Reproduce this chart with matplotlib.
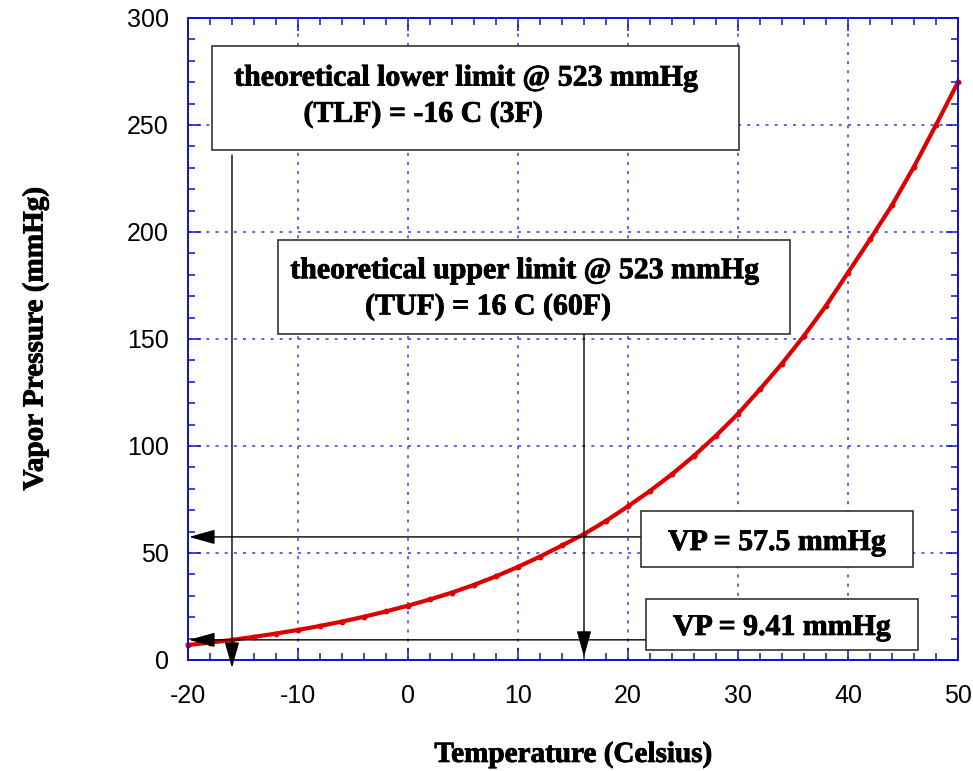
import matplotlib
matplotlib.use("Agg")
import matplotlib.pyplot as plt
from matplotlib import font_manager
from matplotlib import patheffects
from matplotlib.patches import Rectangle
from matplotlib.ticker import MultipleLocator

# vapor pressure curve (every 2 C)
temp_c = [-20, -18, -16, -14, -12, -10, -8, -6, -4, -2, 0, 2, 4, 6, 8, 10,
          12, 14, 16, 18, 20, 22, 24, 26, 28, 30, 32, 34, 36, 38, 40, 42,
          44, 46, 48, 50]
vp_mmhg = [7.0, 8.1, 9.4, 10.8, 12.35, 14.05, 15.9, 17.95, 20.2, 22.7, 25.4,
           28.3, 31.5, 35.1, 39.1, 43.5, 48.3, 53.5, 58.8, 65.0, 71.8, 79.0,
           86.8, 95.4, 104.8, 115.0, 126.5, 138.5, 151.5, 165.5, 181.0,
           196.5, 212.5, 230.5, 250.0, 270.0]

# the two limit points
tlf_temp, tlf_vp = -16, 9.41
tuf_temp, tuf_vp = 16, 57.5

lower_lines = ["theoretical lower limit @ 523 mmHg", "(TLF) = -16 C (3F)"]
upper_lines = ["theoretical upper limit @ 523 mmHg", "(TUF) = 16 C (60F)"]
vp_hi_label = "VP = 57.5 mmHg"
vp_lo_label = "VP = 9.41 mmHg"

BLUE = "#1010d0"
SANS = "Liberation Sans"
BOLD_SERIF = font_manager.findfont(
    font_manager.FontProperties(family="Liberation Serif", weight="bold"))
HEAVY = [patheffects.withStroke(linewidth=0.6, foreground="black")]

plt.rcParams["axes.unicode_minus"] = False


def _bold(size):
    return font_manager.FontProperties(fname=BOLD_SERIF, size=size)


def _box(ax, x0, y0, x1, y1):
    ax.add_patch(Rectangle((x0, y0), x1 - x0, y1 - y0, facecolor="white",
                           edgecolor="#222222", lw=1.1, zorder=4,
                           clip_on=False))


def _arrow(ax, start, tip):
    ax.annotate("", xy=tip, xytext=start, annotation_clip=False, zorder=3,
                arrowprops=dict(arrowstyle="-|>,head_length=1.6,head_width=0.45",
                                color="black", lw=1.0, shrinkA=0, shrinkB=0))


def _label(ax, x, y, s, size, ha="left"):
    ax.text(x, y, s, fontproperties=_bold(size), va="baseline", ha=ha,
            zorder=5, path_effects=HEAVY)


fig = plt.figure(figsize=(9.73, 7.71), dpi=100)
ax = fig.add_axes([0.1932, 0.144, 0.7914, 0.8327])

ax.plot(temp_c, vp_mmhg, color="#dd0000", lw=3.0, marker="o", ms=3.2,
        zorder=2.5, clip_on=False)

ax.set_xlim(-20, 50)
ax.set_ylim(0, 300)
ax.xaxis.set_major_locator(MultipleLocator(10))
ax.xaxis.set_minor_locator(MultipleLocator(2))
ax.yaxis.set_major_locator(MultipleLocator(50))
ax.yaxis.set_minor_locator(MultipleLocator(10))
ax.grid(True, which="major", color="#3a3ae0", lw=1.1, ls=(0, (2, 4)))
ax.tick_params(which="both", direction="in", top=True, right=True,
               color=BLUE, width=1.1)
ax.tick_params(which="major", length=9)
ax.tick_params(which="minor", length=5)
ax.tick_params(axis="x", pad=17)
ax.tick_params(axis="y", pad=14)
for lab in ax.get_xticklabels() + ax.get_yticklabels():
    lab.set_family(SANS)
    lab.set_fontsize(18)
for sp in ax.spines.values():
    sp.set_color(BLUE)
    sp.set_linewidth(1.4)

ax.set_xlabel("Temperature (Celsius)", fontproperties=_bold(21),
              labelpad=24, path_effects=HEAVY)
ax.set_ylabel("Vapor Pressure (mmHg)", fontproperties=_bold(21),
              labelpad=56, path_effects=HEAVY)

# leader lines with arrows
_arrow(ax, (tlf_temp, 236), (tlf_temp, -3.7))
_arrow(ax, (tuf_temp, 152), (tuf_temp, 1.5))
_arrow(ax, (21.2, tuf_vp), (-19.9, tuf_vp))
_arrow(ax, (21.6, tlf_vp), (-19.9, tlf_vp))

# text boxes
_box(ax, -17.8, 238.3, 30.1, 286.9)
_label(ax, -15.8, 268.4, lower_lines[0], 21.5)
_label(ax, -9.5, 251.5, lower_lines[1], 21.5)

_box(ax, -11.8, 152.3, 34.7, 196.3)
_label(ax, -10.7, 178.4, upper_lines[0], 21.5)
_label(ax, -3.9, 161.5, upper_lines[1], 21.5)

_box(ax, 21.2, 43.6, 45.9, 69.6)
_label(ax, 33.55, 51.4, vp_hi_label, 21.5, ha="center")

_box(ax, 21.6, 4.7, 46.4, 28.6)
_label(ax, 34.0, 11.7, vp_lo_label, 21.5, ha="center")

fig.savefig("out.png", dpi=100)
plt.close(fig)
